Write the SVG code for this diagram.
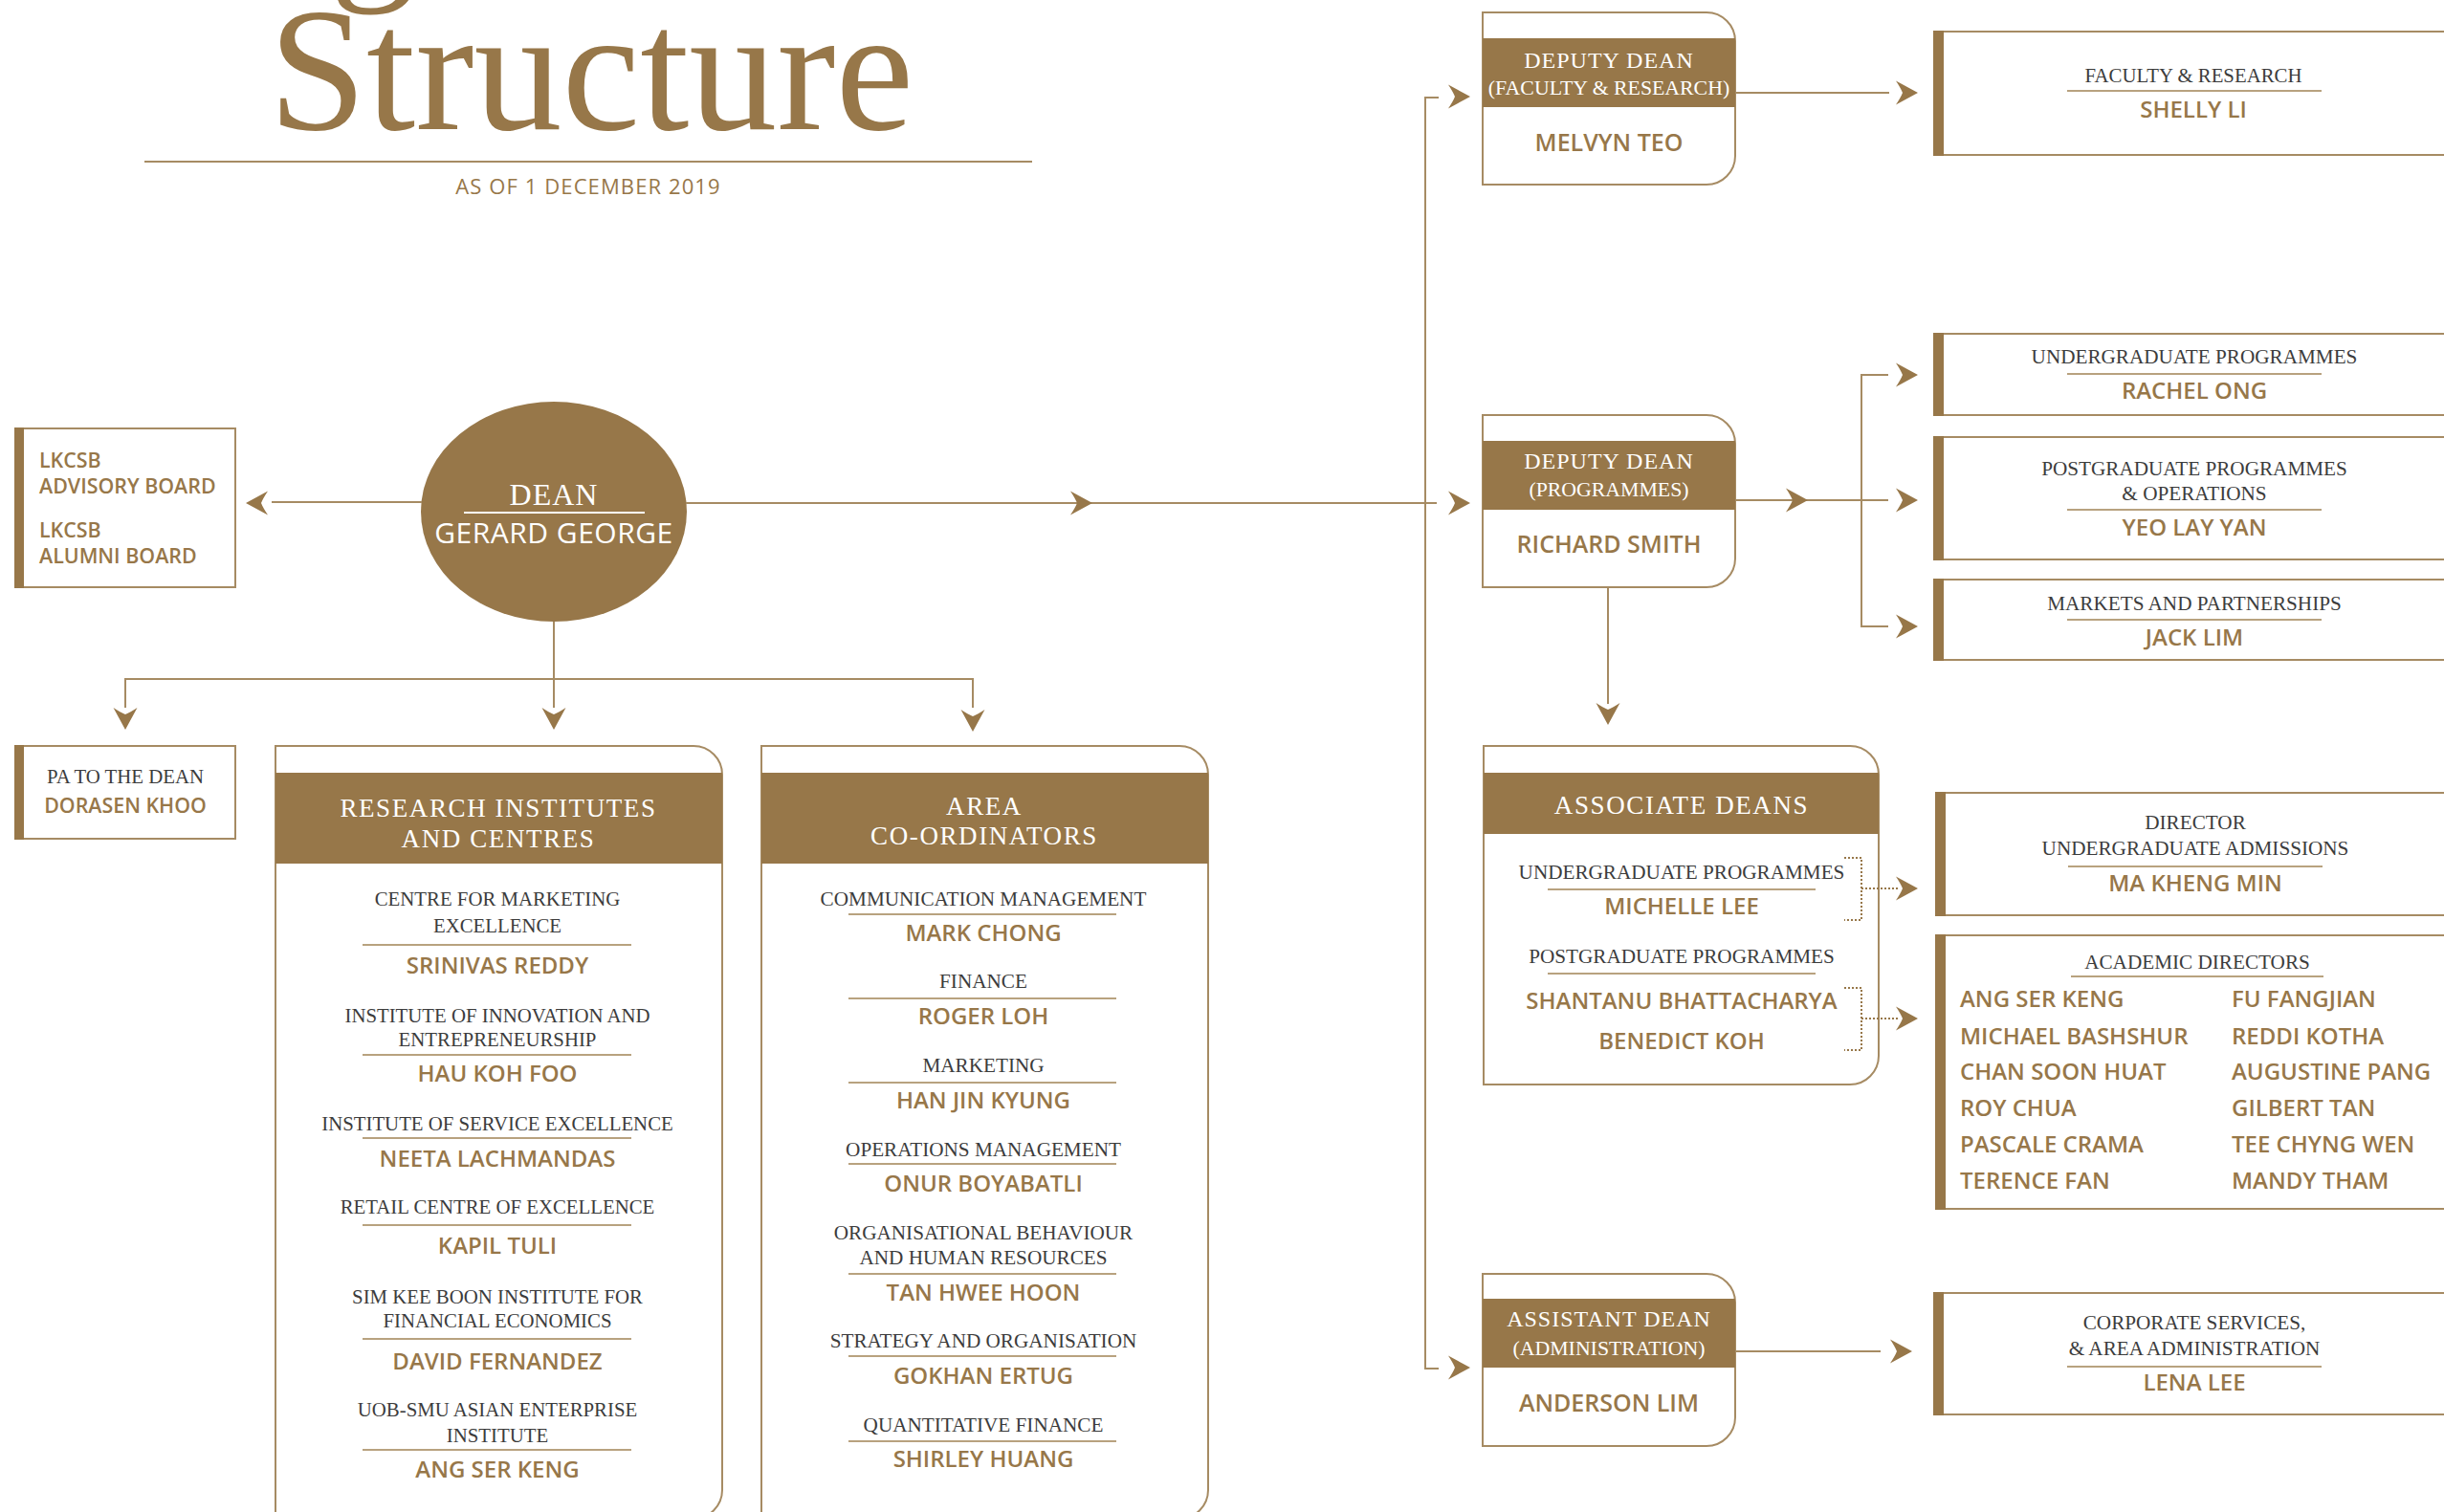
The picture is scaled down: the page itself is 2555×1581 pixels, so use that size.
<svg xmlns="http://www.w3.org/2000/svg" xmlns:xlink="http://www.w3.org/1999/xlink" width="2555" height="1581" viewBox="0 0 2555 1581">
<defs>
<style>
.ln{stroke:#a68b63;stroke-width:2;fill:none}
.dot{stroke:#977749;stroke-width:2;fill:none;stroke-dasharray:2 2}
.box{fill:#fff;stroke:#a68b63;stroke-width:2}
.fill{fill:#977749}
.rule{stroke:#b8a27f;stroke-width:2}
.lbl{font-family:"Liberation Serif","Times New Roman",serif;font-size:20.8px;fill:#3c3c3c;text-anchor:middle}
.lb2{font-family:"Liberation Serif","Times New Roman",serif;font-size:21.2px;fill:#3c3c3c;text-anchor:middle}
.nm{font-family:"Open Sans","Liberation Sans",sans-serif;font-weight:600;font-size:24px;fill:#977749;text-anchor:middle}
.nml{font-family:"Open Sans","Liberation Sans",sans-serif;font-weight:600;font-size:24px;fill:#977749}
.brd{font-family:"Open Sans","Liberation Sans",sans-serif;font-weight:600;font-size:21.4px;fill:#977749}
.ht{font-family:"Liberation Serif","Times New Roman",serif;fill:#fff;text-anchor:middle;font-size:27px;letter-spacing:1.6px}
.dh{font-family:"Liberation Serif","Times New Roman",serif;fill:#fff;text-anchor:middle;font-size:24px;letter-spacing:1px}
.dh2{font-family:"Liberation Serif","Times New Roman",serif;fill:#fff;text-anchor:middle;font-size:21.8px}
.dn{font-family:"Open Sans","Liberation Sans",sans-serif;font-weight:600;font-size:25px;fill:#977749;text-anchor:middle}
</style>
<path id="ah" d="M0,0 L-23,-12.5 Q-18,-5 -16,0 Q-18,5 -23,12.5 Z" fill="#977749"/>
</defs>
<rect width="2555" height="1581" fill="#fff"/>

<g id="title">
<text x="345" y="-23" font-family="'Liberation Serif','Times New Roman',serif" font-size="180" fill="#977749">g</text>
<text x="618" y="135" font-family="'Liberation Serif','Times New Roman',serif" font-size="184" fill="#977749" text-anchor="middle">Structure</text>
<line x1="151" y1="169" x2="1079" y2="169" class="ln"/>
<text x="615" y="203" font-family="'Open Sans','Liberation Sans',sans-serif" font-size="22" letter-spacing="1.1" fill="#977749" text-anchor="middle">AS OF 1 DECEMBER 2019</text>
</g>

<g id="dean">
<ellipse cx="579" cy="535" rx="139" ry="115" class="fill"/>
<text x="579" y="528" font-family="'Liberation Serif','Times New Roman',serif" font-size="32" fill="#fff" text-anchor="middle" letter-spacing="1">DEAN</text>
<line x1="485" y1="536" x2="674" y2="536" stroke="#fff" stroke-width="2"/>
<text x="579" y="568" font-family="'Open Sans','Liberation Sans',sans-serif" font-size="30" font-weight="500" letter-spacing="0.5" fill="#fff" text-anchor="middle">GERARD GEORGE</text>
</g>

<g id="boards">
<rect x="16" y="448" width="230" height="166" class="box"/>
<rect x="15" y="447" width="10" height="168" class="fill"/>
<text class="brd" x="41" y="489">LKCSB</text>
<text class="brd" x="41" y="516">ADVISORY BOARD</text>
<text class="brd" x="41" y="562">LKCSB</text>
<text class="brd" x="41" y="589">ALUMNI BOARD</text>
</g>

<g id="pa">
<rect x="16" y="780" width="230" height="97" class="box"/>
<rect x="15" y="779" width="10" height="99" class="fill"/>
<text class="lbl" x="131" y="819">PA TO THE DEAN</text>
<text class="brd" x="131" y="850" text-anchor="middle">DORASEN KHOO</text>
</g>

<g id="research">
<path class="box" d="M288,780 H725 A30,30 0 0 1 755,810 V1558 A30,30 0 0 1 725,1588 H288 Z"/>
<rect x="288" y="808" width="467" height="95" class="fill"/>
<text class="ht" x="521" y="854">RESEARCH INSTITUTES</text>
<text class="ht" x="521" y="886">AND CENTRES</text>
<text class="lbl" x="520" y="947">CENTRE FOR MARKETING</text>
<text class="lbl" x="520" y="975">EXCELLENCE</text>
<line class="rule" x1="379" y1="988" x2="660" y2="988"/>
<text class="nm" x="520" y="1018">SRINIVAS REDDY</text>
<text class="lbl" x="520" y="1069">INSTITUTE OF INNOVATION AND</text>
<text class="lbl" x="520" y="1094">ENTREPRENEURSHIP</text>
<line class="rule" x1="379" y1="1103" x2="660" y2="1103"/>
<text class="nm" x="520" y="1131">HAU KOH FOO</text>
<text class="lbl" x="520" y="1182">INSTITUTE OF SERVICE EXCELLENCE</text>
<line class="rule" x1="379" y1="1190" x2="660" y2="1190"/>
<text class="nm" x="520" y="1220">NEETA LACHMANDAS</text>
<text class="lbl" x="520" y="1269">RETAIL CENTRE OF EXCELLENCE</text>
<line class="rule" x1="379" y1="1281" x2="660" y2="1281"/>
<text class="nm" x="520" y="1311">KAPIL TULI</text>
<text class="lbl" x="520" y="1363">SIM KEE BOON INSTITUTE FOR</text>
<text class="lbl" x="520" y="1388">FINANCIAL ECONOMICS</text>
<line class="rule" x1="379" y1="1400" x2="660" y2="1400"/>
<text class="nm" x="520" y="1432">DAVID FERNANDEZ</text>
<text class="lbl" x="520" y="1481">UOB-SMU ASIAN ENTERPRISE</text>
<text class="lbl" x="520" y="1508">INSTITUTE</text>
<line class="rule" x1="379" y1="1516" x2="660" y2="1516"/>
<text class="nm" x="520" y="1545">ANG SER KENG</text>
</g>

<g id="area">
<path class="box" d="M796,780 H1233 A30,30 0 0 1 1263,810 V1558 A30,30 0 0 1 1233,1588 H796 Z"/>
<rect x="796" y="808" width="467" height="95" class="fill"/>
<text class="ht" x="1029" y="852">AREA</text>
<text class="ht" x="1029" y="883">CO-ORDINATORS</text>
<text class="lb2" x="1028" y="947">COMMUNICATION MANAGEMENT</text>
<line class="rule" x1="887" y1="956" x2="1167" y2="956"/>
<text class="nm" x="1028" y="984">MARK CHONG</text>
<text class="lb2" x="1028" y="1033">FINANCE</text>
<line class="rule" x1="887" y1="1044" x2="1167" y2="1044"/>
<text class="nm" x="1028" y="1071">ROGER LOH</text>
<text class="lb2" x="1028" y="1121">MARKETING</text>
<line class="rule" x1="887" y1="1132" x2="1167" y2="1132"/>
<text class="nm" x="1028" y="1159">HAN JIN KYUNG</text>
<text class="lb2" x="1028" y="1209">OPERATIONS MANAGEMENT</text>
<line class="rule" x1="887" y1="1217" x2="1167" y2="1217"/>
<text class="nm" x="1028" y="1246">ONUR BOYABATLI</text>
<text class="lb2" x="1028" y="1296">ORGANISATIONAL BEHAVIOUR</text>
<text class="lb2" x="1028" y="1322">AND HUMAN RESOURCES</text>
<line class="rule" x1="887" y1="1332" x2="1167" y2="1332"/>
<text class="nm" x="1028" y="1360">TAN HWEE HOON</text>
<text class="lb2" x="1028" y="1409">STRATEGY AND ORGANISATION</text>
<line class="rule" x1="887" y1="1418" x2="1167" y2="1418"/>
<text class="nm" x="1028" y="1447">GOKHAN ERTUG</text>
<text class="lb2" x="1028" y="1497">QUANTITATIVE FINANCE</text>
<line class="rule" x1="887" y1="1507" x2="1167" y2="1507"/>
<text class="nm" x="1028" y="1534">SHIRLEY HUANG</text>
</g>

<g id="deputy-faculty">
<path class="box" d="M1550,13 H1784 A30,30 0 0 1 1814,43 V163 A30,30 0 0 1 1784,193 H1550 Z"/>
<rect x="1550" y="40" width="264" height="72" class="fill"/>
<text class="dh" x="1682" y="71">DEPUTY DEAN</text>
<text class="dh2" x="1682" y="99">(FACULTY &amp; RESEARCH)</text>
<text class="dn" x="1682" y="158">MELVYN TEO</text>
</g>

<g id="deputy-programmes">
<path class="box" d="M1550,434 H1784 A30,30 0 0 1 1814,464 V584 A30,30 0 0 1 1784,614 H1550 Z"/>
<rect x="1550" y="461" width="264" height="72" class="fill"/>
<text class="dh" x="1682" y="490">DEPUTY DEAN</text>
<text class="dh2" x="1682" y="519">(PROGRAMMES)</text>
<text class="dn" x="1682" y="578">RICHARD SMITH</text>
</g>

<g id="assistant-dean">
<path class="box" d="M1550,1332 H1784 A30,30 0 0 1 1814,1362 V1482 A30,30 0 0 1 1784,1512 H1550 Z"/>
<rect x="1550" y="1358" width="264" height="72" class="fill"/>
<text class="dh" x="1682" y="1387">ASSISTANT DEAN</text>
<text class="dh2" x="1682" y="1417">(ADMINISTRATION)</text>
<text class="dn" x="1682" y="1476">ANDERSON LIM</text>
</g>

<g id="associate-deans">
<path class="box" d="M1551,780 H1934 A30,30 0 0 1 1964,810 V1104 A30,30 0 0 1 1934,1134 H1551 Z"/>
<rect x="1551" y="808" width="413" height="64" class="fill"/>
<text class="ht" x="1758" y="851">ASSOCIATE DEANS</text>
<text class="lb2" x="1758" y="919">UNDERGRADUATE PROGRAMMES</text>
<line class="rule" x1="1618" y1="930" x2="1898" y2="930"/>
<text class="nm" x="1758" y="956">MICHELLE LEE</text>
<text class="lb2" x="1758" y="1007">POSTGRADUATE PROGRAMMES</text>
<line class="rule" x1="1618" y1="1018" x2="1898" y2="1018"/>
<text class="nm" x="1758" y="1055">SHANTANU BHATTACHARYA</text>
<text class="nm" x="1758" y="1097">BENEDICT KOH</text>
</g>

<g id="faculty-research">
<rect x="2022" y="33" width="600" height="129" class="box"/>
<rect x="2021" y="32" width="11" height="131" class="fill"/>
<text class="lbl" x="2293" y="86">FACULTY &amp; RESEARCH</text>
<line class="rule" x1="2161" y1="95" x2="2427" y2="95"/>
<text class="nm" x="2293" y="123">SHELLY LI</text>
</g>

<g id="undergraduate">
<rect x="2022" y="349" width="600" height="85" class="box"/>
<rect x="2021" y="348" width="11" height="87" class="fill"/>
<text class="lb2" x="2294" y="380">UNDERGRADUATE PROGRAMMES</text>
<line class="rule" x1="2161" y1="391" x2="2427" y2="391"/>
<text class="nm" x="2294" y="417">RACHEL ONG</text>
</g>

<g id="postgraduate">
<rect x="2022" y="457" width="600" height="128" class="box"/>
<rect x="2021" y="456" width="11" height="130" class="fill"/>
<text class="lb2" x="2294" y="497">POSTGRADUATE PROGRAMMES</text>
<text class="lb2" x="2294" y="523">&amp; OPERATIONS</text>
<line class="rule" x1="2161" y1="533" x2="2427" y2="533"/>
<text class="nm" x="2294" y="560">YEO LAY YAN</text>
</g>

<g id="markets">
<rect x="2022" y="606" width="600" height="84" class="box"/>
<rect x="2021" y="605" width="11" height="86" class="fill"/>
<text class="lb2" x="2294" y="638">MARKETS AND PARTNERSHIPS</text>
<line class="rule" x1="2161" y1="648" x2="2427" y2="648"/>
<text class="nm" x="2294" y="675">JACK LIM</text>
</g>

<g id="admissions">
<rect x="2024" y="829" width="600" height="128" class="box"/>
<rect x="2023" y="828" width="11" height="130" class="fill"/>
<text class="lb2" x="2295" y="867">DIRECTOR</text>
<text class="lb2" x="2295" y="894">UNDERGRADUATE ADMISSIONS</text>
<line class="rule" x1="2162" y1="906" x2="2428" y2="906"/>
<text class="nm" x="2295" y="932">MA KHENG MIN</text>
</g>

<g id="academic-directors">
<rect x="2024" y="978" width="600" height="286" class="box"/>
<rect x="2023" y="977" width="11" height="288" class="fill"/>
<text class="lb2" x="2297" y="1013">ACADEMIC DIRECTORS</text>
<line class="rule" x1="2165" y1="1021" x2="2429" y2="1021"/>
<text class="nml" x="2049" y="1053">ANG SER KENG</text>
<text class="nml" x="2049" y="1092">MICHAEL BASHSHUR</text>
<text class="nml" x="2049" y="1129">CHAN SOON HUAT</text>
<text class="nml" x="2049" y="1167">ROY CHUA</text>
<text class="nml" x="2049" y="1205">PASCALE CRAMA</text>
<text class="nml" x="2049" y="1243">TERENCE FAN</text>
<text class="nml" x="2333" y="1053">FU FANGJIAN</text>
<text class="nml" x="2333" y="1092">REDDI KOTHA</text>
<text class="nml" x="2333" y="1129">AUGUSTINE PANG</text>
<text class="nml" x="2333" y="1167">GILBERT TAN</text>
<text class="nml" x="2333" y="1205">TEE CHYNG WEN</text>
<text class="nml" x="2333" y="1243">MANDY THAM</text>
</g>

<g id="corporate-services">
<rect x="2022" y="1352" width="600" height="127" class="box"/>
<rect x="2021" y="1351" width="11" height="129" class="fill"/>
<text class="lb2" x="2294" y="1390">CORPORATE SERVICES,</text>
<text class="lb2" x="2294" y="1417">&amp; AREA ADMINISTRATION</text>
<line class="rule" x1="2161" y1="1429" x2="2427" y2="1429"/>
<text class="nm" x="2294" y="1454">LENA LEE</text>
</g>

<g id="connectors">
<line class="ln" x1="441" y1="525" x2="284" y2="525"/>
<use xlink:href="#ah" transform="translate(257,526) rotate(180)"/>
<line class="ln" x1="717" y1="526" x2="1502" y2="526"/>
<use xlink:href="#ah" transform="translate(1142,526)"/>
<polyline class="ln" points="1504,102 1490,102 1490,1431 1504,1431"/>
<use xlink:href="#ah" transform="translate(1537,101)"/>
<use xlink:href="#ah" transform="translate(1537,526)"/>
<use xlink:href="#ah" transform="translate(1537,1430)"/>
<line class="ln" x1="1814" y1="97" x2="1975" y2="97"/>
<use xlink:href="#ah" transform="translate(2005,97)"/>
<line class="ln" x1="1814" y1="523" x2="1974" y2="523"/>
<use xlink:href="#ah" transform="translate(1890,523)"/>
<polyline class="ln" points="1974,392 1946,392 1946,655 1974,655"/>
<use xlink:href="#ah" transform="translate(2005,392)"/>
<use xlink:href="#ah" transform="translate(2005,523)"/>
<use xlink:href="#ah" transform="translate(2005,655)"/>
<line class="ln" x1="1681" y1="615" x2="1681" y2="736"/>
<use xlink:href="#ah" transform="translate(1681,758) rotate(90)"/>
<line class="ln" x1="579" y1="650" x2="579" y2="740"/>
<polyline class="ln" points="131,740 131,710 1017,710 1017,740"/>
<use xlink:href="#ah" transform="translate(131,763) rotate(90)"/>
<use xlink:href="#ah" transform="translate(579,763) rotate(90)"/>
<use xlink:href="#ah" transform="translate(1017,765) rotate(90)"/>
<polyline class="dot" points="1928,897 1946,897 1946,962 1928,962"/>
<line class="dot" x1="1946" y1="929" x2="1984" y2="929"/>
<use xlink:href="#ah" transform="translate(2005,929)"/>
<polyline class="dot" points="1928,1033 1946,1033 1946,1098 1928,1098"/>
<line class="dot" x1="1946" y1="1065" x2="1984" y2="1065"/>
<use xlink:href="#ah" transform="translate(2005,1065)"/>
<line class="ln" x1="1814" y1="1413" x2="1966" y2="1413"/>
<use xlink:href="#ah" transform="translate(1999,1413)"/>
</g>
</svg>
